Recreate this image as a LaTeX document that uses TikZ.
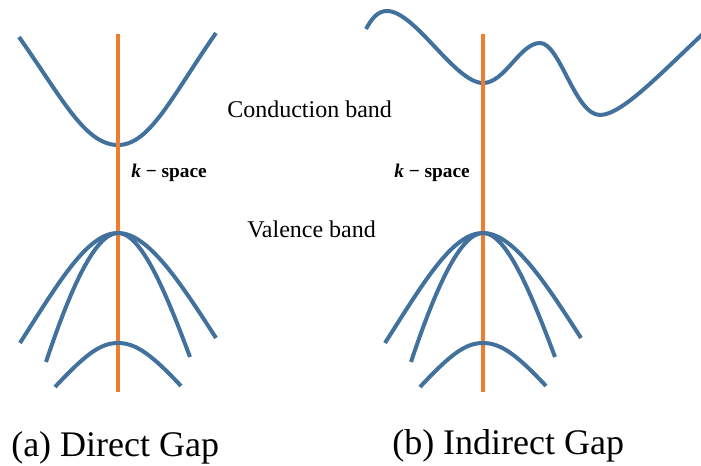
\documentclass[tikz,border=0pt]{standalone}
\usepackage{fontspec}
\setmainfont{Liberation Serif}
\usepackage{tikz}
\usetikzlibrary{positioning}
\definecolor{bandblue}{RGB}{65,113,156}
\definecolor{axisorange}{RGB}{237,125,49}

\begin{document}
\begin{tikzpicture}[x=0.75pt,y=-0.75pt,
band/.style={draw=bandblue,line width=3pt},
kaxis/.style={draw=axisorange,line width=2.6pt},
bandlabel/.style={anchor=base west,inner sep=0pt,font=\fontsize{18}{21}\selectfont},
klabel/.style={anchor=base west,inner sep=0pt,font=\fontsize{14.5}{17}\selectfont\bfseries},
caption/.style={anchor=base west,inner sep=0pt,font=\fontsize{27}{30}\selectfont},]
\clip (0,0) rectangle (701,466);
\coordinate (dtop) at (118,34);
\coordinate (dbot) at (118,392);
\coordinate (itop) at (483,34);
\coordinate (ibot) at (483,392);
\draw[band] (19,37) .. controls (62,98) and (85,145) .. (118,145)
        .. controls (150,145) and (172,96) .. (216,33);
\draw[band] (366,29) .. controls (372,18) and (378,11) .. (387,11)
        .. controls (415,11) and (455,83) .. (483,83)
        .. controls (505,83) and (520,43) .. (540,43)
        .. controls (560,43) and (575,115) .. (600,115)
        .. controls (622,115) and (662,72) .. (706,31);
\draw[kaxis] (dtop) -- (dbot);
\draw[kaxis] (itop) -- (ibot);
\draw[band] (20,343) .. controls (60,280) and (88,233) .. (118,233)
        .. controls (148,233) and (180,282) .. (216,338);
\draw[band] (46,362) .. controls (70,290) and (95,233) .. (118,233)
        .. controls (141,233) and (165,290) .. (190,357);
\draw[band] (55,387) .. controls (85,355) and (100,343) .. (118,343)
        .. controls (136,343) and (152,355) .. (181,386);
\begin{scope}[shift={(365,0)}]
\draw[band] (20,343) .. controls (60,280) and (88,233) .. (118,233)
        .. controls (148,233) and (180,282) .. (216,338);
\draw[band] (46,362) .. controls (70,290) and (95,233) .. (118,233)
        .. controls (141,233) and (165,290) .. (190,357);
\draw[band] (55,387) .. controls (85,355) and (100,343) .. (118,343)
        .. controls (136,343) and (152,355) .. (181,386);
\end{scope}
\node[bandlabel] (conduction) at (227,118) {Conduction band};
\node[bandlabel] (valence) at (247,238) {Valence band};
\node[klabel] (kdirect) at (131,178) {\textit{k} − space};
\node[klabel] (kindirect) at (394,178) {\textit{k} − space};
\node[caption] (capdirect) at (11,457) {(a) Direct Gap};
\node[caption] (capindirect) at (392,455) {(b) Indirect Gap};
\end{tikzpicture}
\end{document}
